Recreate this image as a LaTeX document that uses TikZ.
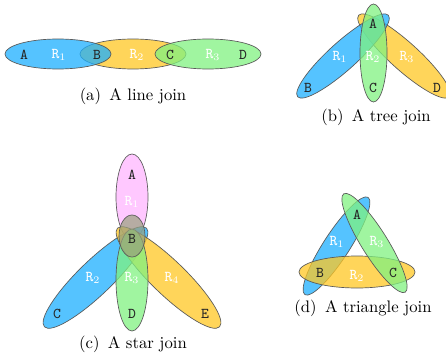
\documentclass[tikz,border=0pt]{standalone}
\usepackage{tikz}

\definecolor{relblue}{RGB}{28,175,255}
\definecolor{relyellow}{RGB}{255,199,35}
\definecolor{relgreen}{RGB}{128,242,128}
\definecolor{relpink}{RGB}{255,182,255}
\definecolor{relgray}{RGB}{152,160,125}

\begin{document}
\begin{tikzpicture}[x=0.6pt,y=0.6pt,
  rel/.style={draw=black!65, line width=0.4pt, fill opacity=0.75},
  attr/.style={font=\small\ttfamily, text=black!85},
  rname/.style={font=\small\ttfamily, text=white},
  subcap/.style={font=\normalsize}]
\useasboundingbox (0,0) rectangle (446,358);

% (a) line join
\draw[rel, fill=relyellow] (133,304) ellipse [x radius=53, y radius=15];
\draw[rel, fill=relblue] (58,304) ellipse [x radius=53, y radius=15];
\draw[rel, fill=relgreen] (208,304) ellipse [x radius=53, y radius=15];
\node[attr] (la) at (24,303) {A};
\node[rname] (lr1) at (59,303) {R$_1$};
\node[attr] (lb) at (97,303) {B};
\node[rname] (lr2) at (137,303) {R$_2$};
\node[attr] (lc) at (170,303) {C};
\node[rname] (lr3) at (213,303) {R$_3$};
\node[attr] (ld) at (243,303) {D};
\node[subcap] (capa) at (133,262) {(a)\enspace A line join};

% (b) tree join
\draw[rel, fill=relyellow, rotate around={-42:(404,302)}] (404,302) ellipse [x radius=61, y radius=14];
\draw[rel, fill=relblue, rotate around={42:(343,302)}] (343,302) ellipse [x radius=61, y radius=14];
\draw[rel, fill=relgreen] (373.5,305) ellipse [x radius=13.5, y radius=49];
\node[attr] (ta) at (373,334) {A};
\node[rname] (tr1) at (340,301) {R$_1$};
\node[rname] (tr2) at (373,301) {R$_2$};
\node[rname] (tr3) at (407,301) {R$_3$};
\node[attr] (tb) at (308,270) {B};
\node[attr] (tc) at (373,270) {C};
\node[attr] (td) at (437,270) {D};
\node[subcap] (capb) at (376,241) {(b)\enspace A tree join};

% (c) star join
\draw[rel, fill=relpink] (132,161) ellipse [x radius=16, y radius=43];
\draw[rel, fill=relblue, rotate around={44:(95.5,80.5)}] (95.5,80.5) ellipse [x radius=71, y radius=17];
\draw[rel, fill=relyellow, rotate around={-44:(168.5,80.5)}] (168.5,80.5) ellipse [x radius=71, y radius=17];
\draw[rel, fill=relgreen] (132,78) ellipse [x radius=16, y radius=51];
\draw[rel, fill=relgray, fill opacity=0.7] (132,122) ellipse [x radius=13, y radius=21];
\node[attr] (sa) at (132,183) {A};
\node[rname] (sr1) at (132,156) {R$_1$};
\node[attr] (sb) at (132,119) {B};
\node[rname] (sr2) at (93,80) {R$_2$};
\node[rname] (sr3) at (132,80) {R$_3$};
\node[rname] (sr4) at (172,80) {R$_4$};
\node[attr] (sc) at (57,44) {C};
\node[attr] (sd) at (132,44) {D};
\node[attr] (se) at (205,44) {E};
\node[subcap] (capc) at (133,14) {(c)\enspace A star join};

% (d) triangle join
\draw[rel, fill=relblue, rotate around={57:(336.5,112)}] (336.5,112) ellipse [x radius=58, y radius=13];
\draw[rel, fill=relyellow] (357,86) ellipse [x radius=58, y radius=16];
\draw[rel, fill=relgreen, rotate around={-58:(374.5,115)}] (374.5,115) ellipse [x radius=58, y radius=13];
\node[attr] (da) at (357,143) {A};
\node[rname] (dr1) at (337,116) {R$_1$};
\node[rname] (dr3) at (377,116) {R$_3$};
\node[attr] (db) at (320,85) {B};
\node[rname] (dr2) at (357,82) {R$_2$};
\node[attr] (dc) at (393,85) {C};
\node[subcap] (capd) at (363,50) {(d)\enspace A triangle join};
\end{tikzpicture}
\end{document}
